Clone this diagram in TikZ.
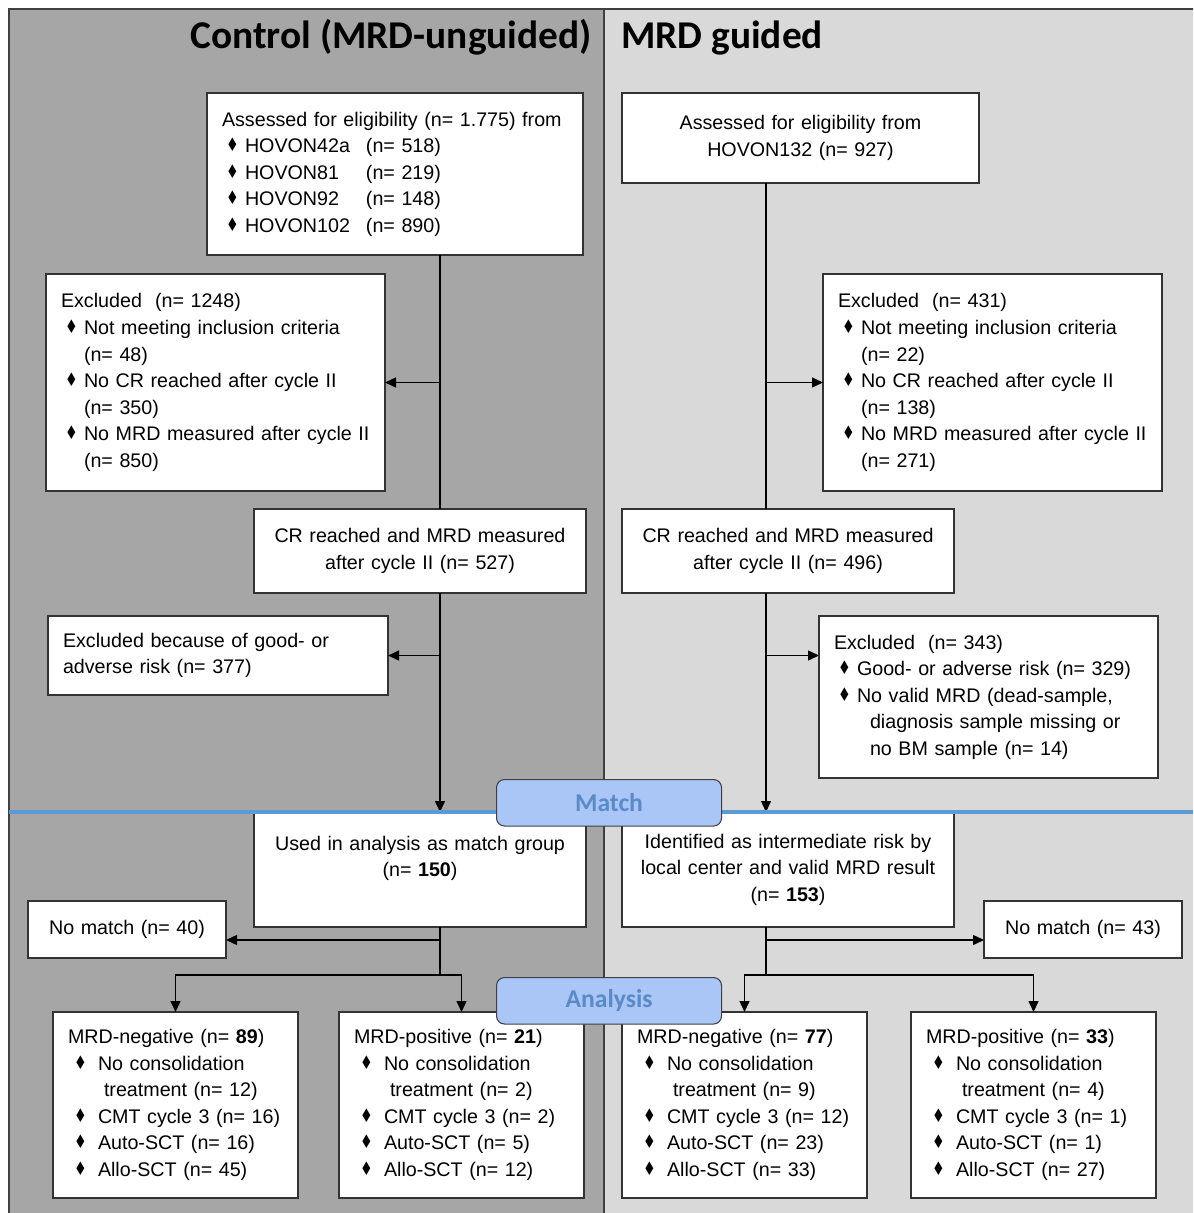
\documentclass[tikz,border=0pt]{standalone}
\usepackage{fontspec}
\setmainfont{Liberation Sans}
\newfontfamily\titlefont{Carlito}
\newfontfamily\symfont{DejaVu Sans}
\usepackage{graphicx}
\usepackage{xcolor}
\usepackage{tikz}
\usetikzlibrary{positioning,calc,arrows.meta}
\definecolor{PanelDark}{HTML}{A6A6A6}
\definecolor{PanelLight}{HTML}{D9D9D9}
\definecolor{MatchBlue}{HTML}{5B9BD5}
\definecolor{TagFill}{HTML}{A9C6F7}
\definecolor{TagText}{HTML}{5A8AC8}
\newcommand{\dmd}{\raisebox{0.1ex}{\scalebox{0.72}[0.95]{\symfont ♦}}}
\newcommand{\bl}{\hspace*{0.08cm}\makebox[0.38cm][l]{\dmd}}
\newcommand{\blw}{\hspace*{0.12cm}\makebox[0.48cm][l]{\dmd}}

\begin{document}
\begin{tikzpicture}
        % Styles for boxes and arrows
        \tikzstyle{box} = [
            draw=black!80,
            line width=0.6pt,
            fill=white,
            anchor=north west,
            inner xsep=0.3cm,
            inner ysep=0pt,
            outer sep=0pt,
            font=\fontsize{11.2}{15.1}\selectfont
        ]
        \tikzstyle{lbox} = [box, align=left]
        \tikzstyle{cbox} = [box, align=center]
        \tikzstyle{tag} = [
            draw=black!75,
            line width=0.6pt,
            fill=TagFill,
            rounded corners=0.16cm,
            anchor=north west,
            minimum width=4.5cm,
            minimum height=0.93cm,
            text=TagText,
            font=\titlefont\bfseries\fontsize{14.6}{17}\selectfont
        ]
        \tikzstyle{link} = [line width=0.8pt, black]
        \tikzstyle{arr} = [link, -{Triangle[length=0.22cm, width=0.2cm]}]

        % Two panels
        \clip (0,0) rectangle (23.86,-24.26);
        \fill[white] (0,0) rectangle (23.86,-24.26);
        \filldraw[fill=PanelDark, draw=black!75, line width=0.8pt] (0.18,-0.18) rectangle (12.08,-24.6);
        \filldraw[fill=PanelLight, draw=black!75, line width=0.8pt] (12.08,-0.18) rectangle (24.2,-24.6);

        \node[anchor=base east, font=\titlefont\bfseries\fontsize{22.4}{26}\selectfont] (ttlL) at (11.96,-0.98) {Control (MRD-unguided)};
        \node[anchor=base west, font=\titlefont\bfseries\fontsize{22.4}{26}\selectfont] (ttlR) at (12.30,-0.98) {MRD guided};

        % Control column
        \node[lbox, minimum height=3.24cm, text width=6.92cm] (a1) at (4.14,-1.86) {Assessed for eligibility (n= 1.775) from\\
            \bl\makebox[2.42cm][l]{HOVON42a}(n= 518)\\
            \bl\makebox[2.42cm][l]{HOVON81}(n= 219)\\
            \bl\makebox[2.42cm][l]{HOVON92}(n= 148)\\
            \bl\makebox[2.42cm][l]{HOVON102}(n= 890)};
        \node[lbox, minimum height=4.34cm, text width=6.18cm] (exL) at (0.92,-5.48) {Excluded\ \ (n= 1248)\\
            \bl Not meeting inclusion criteria\\ \hspace*{0.46cm}(n= 48)\\
            \bl No CR reached after cycle II\\ \hspace*{0.46cm}(n= 350)\\
            \bl No MRD measured after cycle II\\ \hspace*{0.46cm}(n= 850)};
        \node[cbox, minimum height=1.68cm, text width=6.04cm] (crL) at (5.08,-10.18) {CR reached and MRD measured\\after cycle II (n= 527)};
        \node[lbox, minimum height=1.58cm, text width=6.20cm] (riskL) at (0.96,-12.32) {Excluded because of good- or\\adverse risk (n= 377)};
        \node[cbox, minimum height=2.30cm, text width=6.04cm] (used) at (5.08,-16.24) {Used in analysis as match group\\(n= \textbf{150})\\\mbox{}};
        \node[cbox, minimum height=1.14cm, text width=3.36cm] (noL) at (0.56,-18.02) {No match (n= 40)};

        % MRD guided column
        \node[cbox, minimum height=1.80cm, text width=6.54cm] (a2) at (12.44,-1.86) {Assessed for eligibility from\\HOVON132 (n= 927)};
        \node[lbox, minimum height=4.34cm, text width=6.18cm] (exR) at (16.46,-5.48) {Excluded\ \ (n= 431)\\
            \bl Not meeting inclusion criteria\\ \hspace*{0.46cm}(n= 22)\\
            \bl No CR reached after cycle II\\ \hspace*{0.46cm}(n= 138)\\
            \bl No MRD measured after cycle II\\ \hspace*{0.46cm}(n= 271)};
        \node[cbox, minimum height=1.68cm, text width=6.04cm] (crR) at (12.44,-10.18) {CR reached and MRD measured\\after cycle II (n= 496)};
        \node[lbox, minimum height=3.24cm, text width=6.18cm] (riskR) at (16.38,-12.32) {Excluded\ \ (n= 343)\\
            \bl Good- or adverse risk (n= 329)\\
            \bl No valid MRD (dead-sample,\\
            \hspace*{0.72cm}diagnosis sample missing or\\
            \hspace*{0.72cm}no BM sample (n= 14)};
        \node[cbox, minimum height=2.30cm, text width=6.04cm] (ident) at (12.44,-16.24) {Identified as intermediate risk by\\local center and valid MRD result\\(n= \textbf{153})};
        \node[cbox, minimum height=1.14cm, text width=3.36cm] (noR) at (19.68,-18.02) {No match (n= 43)};

        % Analysis boxes
        \foreach \nm/\x/\kind/\tot/\nc/\cmt/\auto/\allo in {negL/1.06/negative/89/12/16/16/45, posL/6.78/positive/21/2/2/5/12, negR/12.44/negative/77/9/12/23/33, posR/18.22/positive/33/4/1/1/27} {
            \node[lbox, minimum height=3.72cm, text width=4.30cm] (\nm) at (\x,-20.24) {MRD-\kind{} (n= \textbf{\tot})\\
                \blw No consolidation\\
                \hspace*{0.72cm}treatment (n= \nc)\\
                \blw CMT cycle 3 (n= \cmt)\\
                \blw Auto-SCT (n= \auto)\\
                \blw Allo-SCT (n= \allo)};
        }

        % Connectors
        \coordinate (tL) at (8.80,0);
        \coordinate (tR) at (15.32,0);
        \draw[link] (a1.south -| tL) -- (crL.north -| tL);
        \draw[arr] (exL.east -| tL) -- (exL.east);
        \draw[arr] (crL.south -| tL) -- (used.north -| tL);
        \draw[arr] (riskL.east -| tL) -- (riskL.east);
        \draw[link] (a2.south -| tR) -- (crR.north -| tR);
        \draw[arr] (exR.west -| tR) -- (exR.west);
        \draw[arr] (crR.south -| tR) -- (ident.north -| tR);
        \draw[arr] (riskL.east -| tR) -- (riskL.east -| riskR.west);

        \coordinate (mL) at (8.80,-18.80);
        \coordinate (sL) at (8.80,-19.50);
        \coordinate (mR) at (15.32,-18.80);
        \coordinate (sR) at (15.32,-19.50);
        \draw[link] (used.south -| tL) -- (sL);
        \draw[arr] (mL) -- (mL -| noL.east);
        \draw[arr] (sL) -| (negL.north);
        \draw[arr] (sL) -| (posL.north);
        \draw[link] (ident.south -| tR) -- (sR);
        \draw[arr] (mR) -- (mR -| noR.west);
        \draw[arr] (sR) -| (negR.north);
        \draw[arr] (sR) -| (posR.north);

        % Match line and labels
        \draw[MatchBlue, line width=2.2pt] (0.18,-16.24) -- (23.86,-16.24);
        \node[tag] (match) at (9.92,-15.58) {Match};
        \node[tag] (analysis) at (9.92,-19.54) {Analysis};
    \end{tikzpicture}
\end{document}
